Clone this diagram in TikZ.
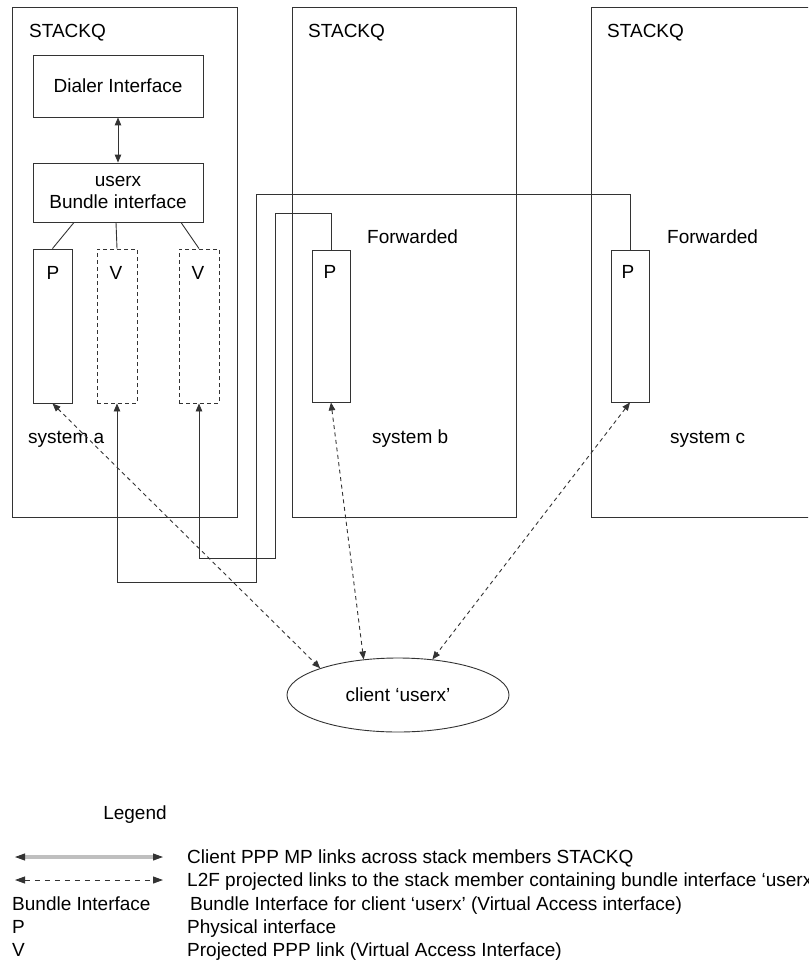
\documentclass[tikz,border=0pt]{standalone}
\usepackage{fontspec}
\setmainfont{Liberation Sans}
\usetikzlibrary{arrows.meta,shapes.geometric}
\begin{document}
\begin{tikzpicture}[x=1pt,y=-1pt,
  >={Triangle[length=8pt,width=6.5pt]},
  txt/.style={font=\fontsize{19}{22}\selectfont, inner sep=0pt, text height=13.6pt, text depth=0pt},
  ln/.style={draw=black!80, line width=0.9pt},
  sysbox/.style={ln, rectangle, inner sep=0pt},
  ifbox/.style={ln, rectangle, inner sep=0pt, font=\fontsize{19}{22}\selectfont, align=center},
  vbox/.style={draw=black!80, line width=0.9pt, dash pattern=on 4pt off 3pt, rectangle, inner sep=0pt},
  dlink/.style={ln, <->, dash pattern=on 4pt off 3.5pt},
  legtip/.style={ln, -{Triangle[length=10pt,width=7pt]}}
]
\useasboundingbox (0,0) rectangle (808,963);
\fill[white] (0,0) rectangle (808,963);
\clip (0,0) rectangle (808,963);

% stack members
\node[sysbox, minimum width=225pt, minimum height=510pt] (sa) at (124.5,262) {};
\node[sysbox, minimum width=224pt, minimum height=510pt] (sb) at (404,262) {};
\node[sysbox, minimum width=240pt, minimum height=510pt] (sc) at (711,262) {};
\node[txt, anchor=west] (sqa) at (29,31) {STACKQ};
\node[txt, anchor=west] (sqb) at (308,31) {STACKQ};
\node[txt, anchor=west] (sqc) at (607,31) {STACKQ};

% system a interfaces
\node[ifbox, minimum width=170pt, minimum height=62pt] (dial) at (118,86) {Dialer Interface};
\node[ifbox, minimum width=170pt, minimum height=59pt] (bund) at (118,192.5) {userx\\Bundle interface};
\node[sysbox, minimum width=39pt, minimum height=154pt] (Pa) at (52.5,326) {};
\node[vbox, minimum width=40pt, minimum height=154pt] (V1) at (117,326) {};
\node[vbox, minimum width=40pt, minimum height=154pt] (V2) at (199,326) {};
\node[txt] (Pal) at (53,273) {P};
\node[txt] (V1l) at (116,273) {V};
\node[txt] (V2l) at (198,273) {V};
\node[txt, anchor=west] (sysa) at (28,437) {system a};

% system b, c
\node[sysbox, minimum width=38pt, minimum height=152pt] (Pb) at (331,326) {};
\node[sysbox, minimum width=38pt, minimum height=152pt] (Pc) at (630,326) {};
\node[txt] (Pbl) at (330,272) {P};
\node[txt] (Pcl) at (628,272) {P};
\node[txt, anchor=west] (fwb) at (367,237) {Forwarded};
\node[txt, anchor=west] (fwc) at (667,237) {Forwarded};
\node[txt, anchor=west] (sysb) at (372,437) {system b};
\node[txt, anchor=west] (sysc) at (670,437) {system c};

% client
\node[ln, ellipse, inner sep=0pt, minimum width=222pt, minimum height=74pt,
      font=\fontsize{19}{22}\selectfont] (cl) at (398,695) {client `userx'};

% connectors inside system a
\draw[ln, <->] (dial) -- (bund);
\draw[ln] ([xshift=-44pt]bund.south) -- (Pa.north);
\draw[ln] ([xshift=-2pt]bund.south) -- (V1.north);
\draw[ln] ([xshift=63pt]bund.south) -- (V2.north);

% projected links
\draw[ln, <-] (V1.south) |- (256,582) -- (256,194) -| (Pc.north);
\draw[ln, <-] (V2.south) |- (275,558) -- (275,213) -| (Pb.north);

% client links
\draw[dlink] (Pa.south) -- (cl.161);
\draw[dlink] (Pb.south) -- (cl.134);
\draw[dlink] (Pc.south) -- (cl.46);

% legend
\node[txt] (leg) at (135,813) {Legend};
\coordinate (l1a) at (15,857);
\coordinate (l1b) at (163,857);
\coordinate (l2a) at (15,880);
\coordinate (l2b) at (163,880);
\draw[gray!50, line width=3.5pt, shorten <=7pt, shorten >=7pt] (l1a) -- (l1b);
\draw[legtip] ([xshift=9pt]l1a) -- (l1a);
\draw[legtip] ([xshift=-9pt]l1b) -- (l1b);
\draw[ln, {Triangle[length=10pt,width=7pt]}-{Triangle[length=10pt,width=7pt]}, dash pattern=on 5pt off 5pt] (l2a) -- (l2b);
\node[txt, anchor=west] (t1) at (187,857) {Client PPP MP links across stack members STACKQ};
\node[txt, anchor=west] (t2) at (187,880) {L2F projected links to the stack member containing bundle interface `userx'};
\node[txt, anchor=west] (k3) at (12,904) {Bundle Interface};
\node[txt, anchor=west] (t3) at (190,904) {Bundle Interface for client `userx' (Virtual Access interface)};
\node[txt, anchor=west] (k4) at (12,927) {P};
\node[txt, anchor=west] (t4) at (187,927) {Physical interface};
\node[txt, anchor=west] (k5) at (12,950) {V};
\node[txt, anchor=west] (t5) at (187,950) {Projected PPP link (Virtual Access Interface)};
\end{tikzpicture}
\end{document}
